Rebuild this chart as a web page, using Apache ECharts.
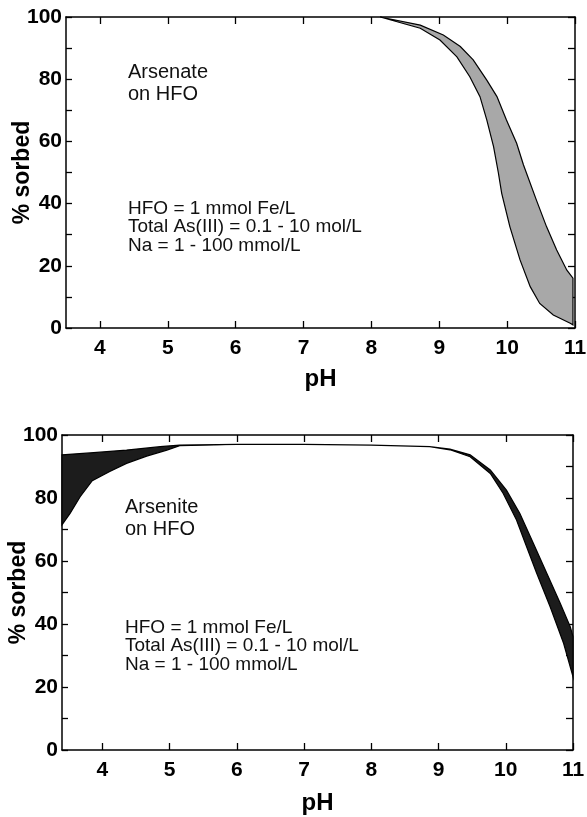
<!DOCTYPE html>
<html>
<head>
<meta charset="utf-8">
<script src="https://cdn.jsdelivr.net/npm/echarts@6/dist/echarts.min.js"></script>
<style>
  html, body { margin: 0; padding: 0; background: #fff; }
  #chart { width: 587px; height: 817px; }
</style>
</head>
<body>
<div id="chart"></div>
<script>
// ---- data ----
const PH_TICKS = [4, 5, 6, 7, 8, 9, 10, 11];
const Y_TICKS = [0, 10, 20, 30, 40, 50, 60, 70, 80, 90, 100];
const Y_LABELS = [0, 20, 40, 60, 80, 100];

// arsenate band [pH, % sorbed]
const ARSENATE_UPPER = [[8.13, 100], [8.72, 97.4], [9.06, 94.2], [9.31, 90.5], [9.5, 86.2], [9.7, 79.7], [9.85, 74.4],
  [9.99, 66.9], [10.14, 59.4], [10.24, 52.5], [10.43, 41.2], [10.58, 32.6], [10.73, 25.1], [10.88, 18.6], [10.97, 16]];
const ARSENATE_LOWER = [[8.13, 100], [8.72, 96.4], [9.01, 92.6], [9.26, 87.2], [9.45, 80.8], [9.6, 74.4], [9.7, 66.9],
  [9.8, 58.3], [9.87, 50], [9.92, 43.3], [10.04, 32.6], [10.19, 21.9], [10.34, 13.3], [10.48, 7.9], [10.68, 4.2],
  [10.93, 1.5], [10.97, 1.0]];

// arsenite band [pH, % sorbed]
const ARSENITE_UPPER = [[3.4, 93.7], [3.87, 94.4], [4.36, 95.2], [4.86, 96.3], [5.15, 96.8], [6, 97], [7, 97],
  [8, 96.8], [8.87, 96.3], [9.17, 95.5], [9.47, 93.7], [9.77, 88.9], [10.01, 82.5], [10.21, 75.1], [10.41, 65.6],
  [10.61, 56.1], [10.81, 46.6], [10.96, 39.1], [11, 36]];
const ARSENITE_LOWER = [[3.4, 71.5], [3.52, 75.1], [3.67, 80.4], [3.85, 85.5], [4.11, 88.4], [4.36, 91], [4.66, 93.3],
  [4.96, 95.2], [5.15, 96.6], [6, 97], [7, 97], [8, 96.8], [8.87, 96.3], [9.17, 95.3], [9.47, 93.1], [9.77, 87.8],
  [9.96, 81.5], [10.16, 73], [10.31, 64.5], [10.46, 56.1], [10.66, 45.5], [10.86, 33.9], [11, 23.3]];

const FONT = '"Liberation Sans", Arial, sans-serif';

// ---- helpers ----
function xAxes(gridIndex, min) {
  const base = {
    type: 'value', gridIndex, min, max: 11,
    axisLine: { show: true, onZero: false, lineStyle: { color: '#000', width: 1.5 } },
    splitLine: { show: false }
  };
  return [
    Object.assign({}, base, {
      position: 'bottom',
      axisTick: { inside: true, length: 7, customValues: PH_TICKS, lineStyle: { color: '#000', width: 1.3 } },
      axisLabel: { customValues: PH_TICKS, margin: 10, color: '#000', fontFamily: FONT, fontWeight: 'bold', fontSize: 21 },
      name: 'pH', nameLocation: 'middle', nameGap: gridIndex ? 41 : 39, nameMoveOverlap: false,
      nameTextStyle: { color: '#000', fontFamily: FONT, fontWeight: 'bold', fontSize: 24 }
    }),
    Object.assign({}, base, {
      position: 'top',
      axisTick: { inside: true, length: 7, customValues: PH_TICKS, lineStyle: { color: '#000', width: 1.3 } },
      axisLabel: { show: false }
    })
  ];
}

function yAxes(gridIndex) {
  const base = {
    type: 'value', gridIndex, min: 0, max: 100,
    axisLine: { show: true, onZero: false, lineStyle: { color: '#000', width: 1.5 } },
    splitLine: { show: false }
  };
  return [
    Object.assign({}, base, {
      position: 'left',
      axisTick: { inside: true, length: 6, customValues: Y_TICKS, lineStyle: { color: '#000', width: 1.3 } },
      axisLabel: { customValues: Y_LABELS, margin: 4, color: '#000', fontFamily: FONT, fontWeight: 'bold', fontSize: 21 },
      name: '% sorbed', nameLocation: 'middle', nameGap: 32, nameRotate: 90, nameMoveOverlap: false,
      nameTextStyle: { color: '#000', fontFamily: FONT, fontWeight: 'bold', fontSize: 23 }
    }),
    Object.assign({}, base, {
      position: 'right',
      axisTick: { inside: true, length: 7, customValues: Y_TICKS, lineStyle: { color: '#000', width: 1.3 } },
      axisLabel: { show: false }
    })
  ];
}

function band(upper, lower, fill, axisIdx) {
  return {
    type: 'custom',
    xAxisIndex: axisIdx, yAxisIndex: axisIdx,
    silent: true,
    data: [upper[0]],
    renderItem: (params, api) => ({
      type: 'polygon',
      shape: { points: upper.concat(lower.slice().reverse()).map(p => api.coord(p)) },
      style: { fill, stroke: '#000', lineWidth: 1.2 }
    })
  };
}

function label(text, left, top, size, lineHeight) {
  return {
    type: 'text', left, top,
    style: { text, fill: '#111', font: `${size}px ${FONT}`, lineHeight }
  };
}

// ---- chart ----
const chart = echarts.init(document.getElementById('chart'));
chart.setOption({
  animation: false,
  backgroundColor: '#fff',
  grid: [
    { left: 66, top: 17, width: 509, height: 311, outerBoundsMode: 'none' },
    { left: 62, top: 435, width: 511, height: 315, outerBoundsMode: 'none' }
  ],
  xAxis: [...xAxes(0, 3.5), ...xAxes(1, 3.4)],
  yAxis: [...yAxes(0), ...yAxes(1)],
  series: [
    band(ARSENATE_UPPER, ARSENATE_LOWER, '#a8a8a8', 0),
    band(ARSENITE_UPPER, ARSENITE_LOWER, '#1c1c1c', 2)
  ],
  graphic: [
    label('Arsenate\non HFO', 128, 61, 20, 22),
    label('HFO = 1 mmol Fe/L\nTotal As(III) = 0.1 - 10 mol/L\nNa = 1 - 100 mmol/L', 128, 199, 19, 18.5),
    label('Arsenite\non HFO', 125, 496, 20, 22),
    label('HFO = 1 mmol Fe/L\nTotal As(III) = 0.1 - 10 mol/L\nNa = 1 - 100 mmol/L', 125, 618, 19, 18.5)
  ]
});
</script>
</body>
</html>
